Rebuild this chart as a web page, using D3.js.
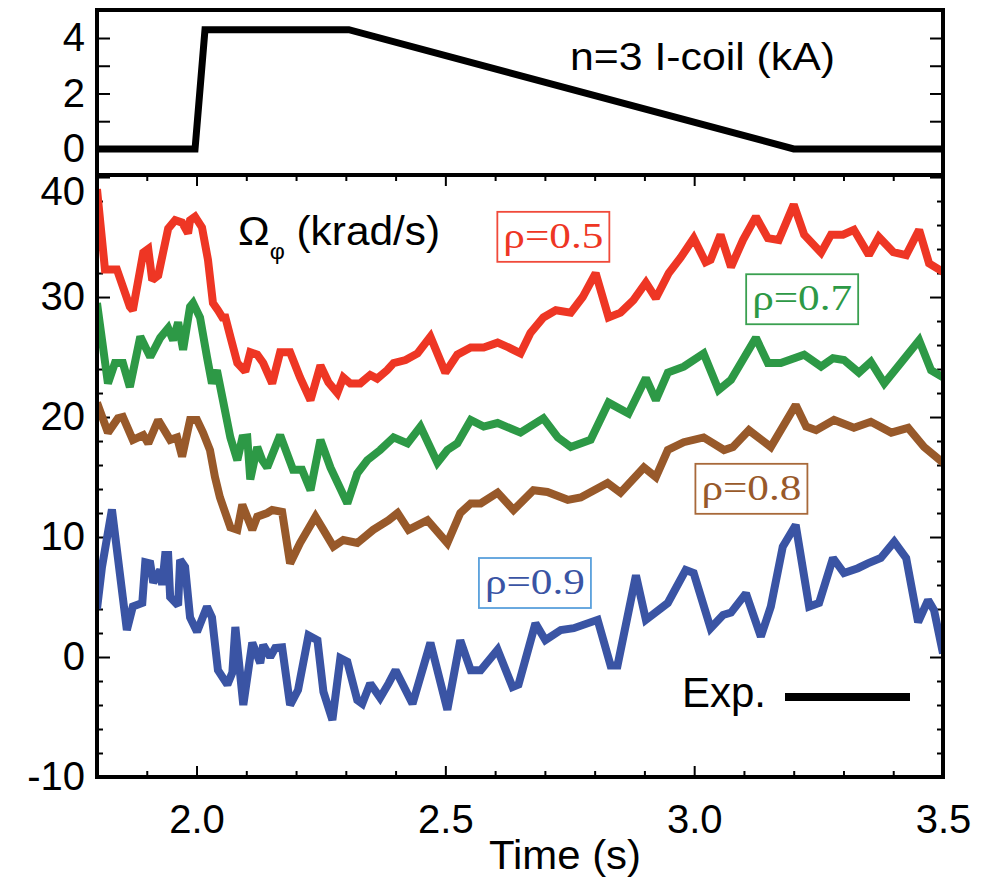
<!DOCTYPE html>
<html lang="en">
<head>
<meta charset="utf-8">
<title>Rotation and I-coil</title>
<script src="https://cdn.jsdelivr.net/npm/d3@7"></script>
<style>
  body { margin: 0; background: #fff; }
  .axis path { display: none; }
  .axis line { stroke: #000; stroke-width: 2; }
  .axis text { font-family: "Liberation Sans", Arial, sans-serif; font-size: 40px; fill: #000; }
</style>
</head>
<body>
<script>
// ---- data ----
// n=3 I-coil current (kA)
var coil = [[1.80, 0], [1.997, 0], [2.017, 4.3], [2.306, 4.3], [3.20, 0], [3.50, 0]];

// toroidal rotation (krad/s), [time (s), value]
var rho05 = [[1.800,39.0],[1.816,32.3],[1.840,32.3],[1.866,29.2],[1.872,28.9],[1.893,33.7],[1.903,34.0],[1.911,31.4],[1.923,31.8],[1.943,35.7],[1.957,36.4],[1.971,36.2],[1.983,35.3],[1.987,36.4],[1.997,36.7],[2.011,35.8],[2.023,33.1],[2.033,29.5],[2.043,28.9],[2.052,28.3],[2.058,28.3],[2.068,26.7],[2.082,24.5],[2.098,23.8],[2.108,25.4],[2.122,25.2],[2.134,24.5],[2.152,22.8],[2.168,25.4],[2.188,25.4],[2.208,23.3],[2.229,21.4],[2.249,24.3],[2.265,22.9],[2.283,22.0],[2.295,23.3],[2.309,22.8],[2.329,22.8],[2.349,23.5],[2.363,23.2],[2.383,23.9],[2.396,24.5],[2.420,24.75],[2.444,25.3],[2.470,26.7],[2.500,23.7],[2.524,25.2],[2.551,25.8],[2.577,25.8],[2.605,26.2],[2.627,25.8],[2.651,25.3],[2.671,27.0],[2.697,28.3],[2.722,28.9],[2.752,28.7],[2.776,30.0],[2.802,32.0],[2.828,28.3],[2.852,28.7],[2.878,29.75],[2.903,31.2],[2.923,29.9],[2.949,32.0],[2.973,33.3],[2.999,34.9],[3.023,32.9],[3.033,33.1],[3.053,35.2],[3.074,32.5],[3.098,34.75],[3.124,36.7],[3.148,34.9],[3.170,34.75],[3.200,37.7],[3.221,35.2],[3.255,33.7],[3.275,35.2],[3.299,35.2],[3.321,35.6],[3.351,33.5],[3.371,35.0],[3.400,33.75],[3.426,33.5],[3.452,35.6],[3.472,32.8],[3.500,32.1]];

var rho07 = [[1.800,29.5],[1.822,22.8],[1.836,24.5],[1.852,24.5],[1.866,22.5],[1.887,26.7],[1.907,25.0],[1.927,26.6],[1.943,27.4],[1.953,26.4],[1.963,27.9],[1.973,25.6],[1.987,29.2],[1.993,29.5],[2.007,28.3],[2.021,25.0],[2.031,22.8],[2.041,23.9],[2.054,21.2],[2.068,18.3],[2.082,16.4],[2.092,18.25],[2.102,18.3],[2.108,14.8],[2.122,17.5],[2.132,16.4],[2.142,15.8],[2.168,18.5],[2.194,15.6],[2.212,15.6],[2.229,13.9],[2.249,18.1],[2.269,15.8],[2.303,12.8],[2.323,15.3],[2.343,16.4],[2.369,17.25],[2.396,18.3],[2.424,17.8],[2.450,19.2],[2.484,16.2],[2.504,17.25],[2.524,17.8],[2.551,19.75],[2.577,19.2],[2.605,19.5],[2.651,18.7],[2.697,19.9],[2.726,18.3],[2.752,17.5],[2.792,18.1],[2.828,21.2],[2.868,20.3],[2.903,23.25],[2.923,21.4],[2.947,23.7],[2.979,24.2],[3.019,25.3],[3.049,22.25],[3.074,23.1],[3.124,26.6],[3.148,24.5],[3.174,24.5],[3.221,25.2],[3.255,24.2],[3.279,24.9],[3.301,24.75],[3.331,23.7],[3.355,24.6],[3.382,22.8],[3.452,26.4],[3.476,23.9],[3.500,23.3]];

var rho08 = [[1.800,21.2],[1.822,18.7],[1.842,19.9],[1.852,20.0],[1.872,18.1],[1.893,18.5],[1.903,17.8],[1.923,19.75],[1.947,18.1],[1.961,18.3],[1.971,16.7],[1.987,19.75],[2.001,19.75],[2.013,18.7],[2.027,17.25],[2.037,15.0],[2.047,13.3],[2.068,10.8],[2.082,10.6],[2.092,12.7],[2.112,10.6],[2.122,11.7],[2.142,12.0],[2.152,12.25],[2.172,12.1],[2.188,7.8],[2.208,9.5],[2.239,11.7],[2.255,10.6],[2.275,9.2],[2.295,9.75],[2.323,9.5],[2.355,10.6],[2.386,11.4],[2.404,12.0],[2.426,10.6],[2.464,11.4],[2.504,9.5],[2.530,12.0],[2.551,12.8],[2.571,12.8],[2.605,13.7],[2.637,12.25],[2.677,13.9],[2.705,13.75],[2.746,13.1],[2.772,13.3],[2.826,14.5],[2.852,13.7],[2.899,15.8],[2.923,15.0],[2.947,17.25],[2.979,17.9],[3.019,18.3],[3.060,17.25],[3.078,17.5],[3.110,18.9],[3.154,17.5],[3.204,21.0],[3.225,19.2],[3.245,18.9],[3.281,19.75],[3.321,19.1],[3.355,19.6],[3.396,18.7],[3.430,19.1],[3.462,17.5],[3.500,16.2]];

var rho09 = [[1.800,4.0],[1.810,7.5],[1.830,12.3],[1.860,2.25],[1.872,4.2],[1.891,4.5],[1.897,7.9],[1.907,7.8],[1.913,6.2],[1.927,7.25],[1.931,6.0],[1.937,8.5],[1.943,8.5],[1.947,5.0],[1.963,4.3],[1.967,8.1],[1.977,7.5],[1.987,3.3],[2.001,2.1],[2.021,4.2],[2.031,3.3],[2.043,-1.1],[2.062,-2.3],[2.072,-1.3],[2.078,2.5],[2.094,-4.0],[2.112,1.2],[2.128,-0.5],[2.134,1.0],[2.148,0.0],[2.158,0.75],[2.172,0.8],[2.188,-4.0],[2.204,-2.75],[2.225,1.8],[2.243,1.4],[2.255,-2.9],[2.273,-5.25],[2.289,-0.1],[2.303,-0.4],[2.323,-3.6],[2.333,-3.9],[2.349,-2.2],[2.369,-3.4],[2.386,-2.2],[2.400,-1.1],[2.434,-3.9],[2.470,1.2],[2.504,-4.4],[2.530,1.4],[2.551,-1.1],[2.571,-1.1],[2.605,0.6],[2.635,-2.5],[2.647,-2.3],[2.681,2.8],[2.701,1.4],[2.732,2.25],[2.758,2.4],[2.806,3.1],[2.832,-0.7],[2.846,-0.7],[2.883,6.8],[2.903,3.1],[2.947,4.5],[2.983,7.25],[2.999,7.0],[3.033,2.4],[3.058,3.5],[3.074,3.7],[3.104,5.3],[3.134,1.7],[3.154,4.2],[3.178,9.2],[3.204,11.0],[3.231,4.2],[3.251,4.5],[3.279,8.25],[3.301,7.0],[3.329,7.4],[3.349,7.8],[3.375,8.25],[3.402,9.6],[3.426,8.25],[3.450,2.9],[3.470,4.75],[3.482,3.9],[3.500,0.3]];

var seriesNames = ["\u03c1=0.5", "\u03c1=0.7", "\u03c1=0.8", "\u03c1=0.9"];
var seriesColors = ["#ee3624", "#2d9946", "#98592a", "#3a54a4"];
var boxColors = ["#f04a3a", "#3aa050", "#a8693a", "#5aa0dc"];
// tag anchor (time at centre, value at baseline) for each series
var labelPos = [[2.717, 34.1], [3.217, 28.9], [3.115, 13.1], [2.680, 5.25]];

var xTicksMajor = [2.0, 2.5, 3.0, 3.5];
var coilTicks = [0, 1, 2, 3, 4];
var coilLabels = [0, 2, 4];
var rotTicksMajor = [-10, 0, 10, 20, 30, 40];

// ---- layout ----
var W = 990, H = 884;
var left = 97, right = 943;
var top1 = 10, bot1 = 175, bot2 = 777;

var svg = d3.select("body").append("svg")
    .attr("width", W)
    .attr("height", H);

var x = d3.scaleLinear().domain([1.8, 3.5]).range([left, right]);
var yCoil = d3.scaleLinear().domain([-0.94, 5.01]).range([bot1, top1]);
var yRot = d3.scaleLinear().domain([-10, 40.17]).range([bot2, bot1]);

var minorX = d3.range(18, 36).map(function(d) { return d / 10; })
    .filter(function(d) { return xTicksMajor.indexOf(d) < 0; });
var minorY = d3.range(-10, 41, 2).filter(function(d) { return d % 10 != 0; });

svg.append("defs").append("clipPath").attr("id", "clipRot")
  .append("rect").attr("x", left).attr("y", bot1).attr("width", right - left).attr("height", bot2 - bot1);
svg.select("defs").append("clipPath").attr("id", "clipCoil")
  .append("rect").attr("x", left).attr("y", top1).attr("width", right - left).attr("height", bot1 - top1);

// ---- top panel: coil current ----
svg.append("g").attr("class", "axis")
    .attr("transform", "translate(" + left + ",0)")
    .call(d3.axisLeft(yCoil).tickValues(coilTicks).tickSize(-13).tickPadding(12)
        .tickFormat(function(d) { return coilLabels.indexOf(d) >= 0 ? d : ""; }));
svg.append("g").attr("class", "axis")
    .attr("transform", "translate(" + right + ",0)")
    .call(d3.axisRight(yCoil).tickValues(coilTicks).tickSize(-13).tickFormat(""));

var line = function(ys) {
  return d3.line().x(function(d) { return x(d[0]); }).y(function(d) { return ys(d[1]); });
};

svg.append("path")
    .datum(coil)
    .attr("clip-path", "url(#clipCoil)")
    .attr("d", line(yCoil))
    .attr("fill", "none")
    .attr("stroke", "#000")
    .attr("stroke-width", 7)
    .attr("stroke-linejoin", "miter");

svg.append("text")
    .attr("x", 570).attr("y", 70)
    .attr("textLength", 265).attr("lengthAdjust", "spacingAndGlyphs")
    .style("font-family", "Liberation Sans, Arial, sans-serif")
    .style("font-size", "38px")
    .text("n=3 I-coil (kA)");

// ---- bottom panel: rotation ----
function addTicks(axisFn, scale, vals, size, pos, labels) {
  var ax = axisFn(scale).tickValues(vals).tickSize(size);
  if (labels) ax.tickPadding(labels);
  else ax.tickFormat("");
  return svg.append("g").attr("class", "axis").attr("transform", pos).call(ax);
}
var yl = addTicks(d3.axisLeft, yRot, rotTicksMajor, -13, "translate(" + left + ",0)", 12);
yl.selectAll(".tick text").text(function(d) { return String(d); });   // plain hyphen, as in the figure
yl.selectAll(".tick text").filter(function(d) { return d == 40; }).attr("y", 15);
addTicks(d3.axisLeft, yRot, minorY, -6, "translate(" + left + ",0)");
addTicks(d3.axisRight, yRot, rotTicksMajor, -13, "translate(" + right + ",0)");
addTicks(d3.axisRight, yRot, minorY, -6, "translate(" + right + ",0)");

var xb = addTicks(d3.axisBottom, x, xTicksMajor, -11, "translate(0," + bot2 + ")", 28);
xb.selectAll(".tick text").text(function(d) { return d3.format(".1f")(d); });
addTicks(d3.axisBottom, x, minorX, -6, "translate(0," + bot2 + ")");
addTicks(d3.axisTop, x, xTicksMajor, -11, "translate(0," + bot1 + ")");
addTicks(d3.axisTop, x, minorX, -6, "translate(0," + bot1 + ")");

var allSeries = [rho05, rho07, rho08, rho09];
svg.append("g").attr("clip-path", "url(#clipRot)")
  .selectAll("path.rot")
  .data(allSeries)
  .enter().append("path")
    .attr("class", "rot")
    .attr("d", line(yRot))
    .attr("fill", "none")
    .attr("stroke", function(d, i) { return seriesColors[i]; })
    .attr("stroke-width", 8)
    .attr("stroke-linejoin", "miter")
    .attr("stroke-miterlimit", 2);

// rho tags in boxes
var tags = svg.selectAll("g.tag")
    .data(seriesNames)
    .enter().append("g").attr("class", "tag");
tags.append("rect")
    .attr("x", function(d, i) { return x(labelPos[i][0]) - 56; })
    .attr("y", function(d, i) { return yRot(labelPos[i][1]) - 36; })
    .attr("width", 112)
    .attr("height", 50)
    .attr("fill", "none")
    .attr("stroke", function(d, i) { return boxColors[i]; })
    .attr("stroke-width", 1.8);
tags.append("text")
    .attr("x", function(d, i) { return x(labelPos[i][0]); })
    .attr("y", function(d, i) { return yRot(labelPos[i][1]); })
    .attr("text-anchor", "middle")
    .attr("textLength", 100).attr("lengthAdjust", "spacingAndGlyphs")
    .style("font-family", "Liberation Serif, Times New Roman, serif")
    .style("font-size", "35px")
    .attr("fill", function(d, i) { return seriesColors[i]; })
    .text(function(d) { return d; });

// Omega label
var om = svg.append("text")
    .attr("x", 238).attr("y", 245)
    .attr("textLength", 202).attr("lengthAdjust", "spacingAndGlyphs")
    .style("font-family", "Liberation Sans, Arial, sans-serif")
    .style("font-size", "40px");
om.append("tspan").text("\u03a9");
om.append("tspan").attr("dy", 14).style("font-size", "22px").text("\u03c6");
om.append("tspan").attr("dy", -14).text(" (krad/s)");

// Exp. legend
svg.append("text")
    .attr("x", 682).attr("y", 707)
    .style("font-family", "Liberation Sans, Arial, sans-serif")
    .style("font-size", "42px")
    .text("Exp.");
svg.append("line")
    .attr("x1", 785).attr("x2", 910)
    .attr("y1", 697).attr("y2", 697)
    .attr("stroke", "#000").attr("stroke-width", 8);

// x title
svg.append("text")
    .attr("x", (left + right) / 2 + 45).attr("y", 869)
    .attr("text-anchor", "middle")
    .attr("textLength", 152).attr("lengthAdjust", "spacingAndGlyphs")
    .style("font-family", "Liberation Sans, Arial, sans-serif")
    .style("font-size", "40px")
    .text("Time (s)");

// frames
svg.append("rect").attr("x", left).attr("y", top1).attr("width", right - left).attr("height", bot1 - top1)
    .attr("fill", "none").attr("stroke", "#000").attr("stroke-width", 4);
svg.append("rect").attr("x", left).attr("y", bot1).attr("width", right - left).attr("height", bot2 - bot1)
    .attr("fill", "none").attr("stroke", "#000").attr("stroke-width", 4);
</script>
</body>
</html>
